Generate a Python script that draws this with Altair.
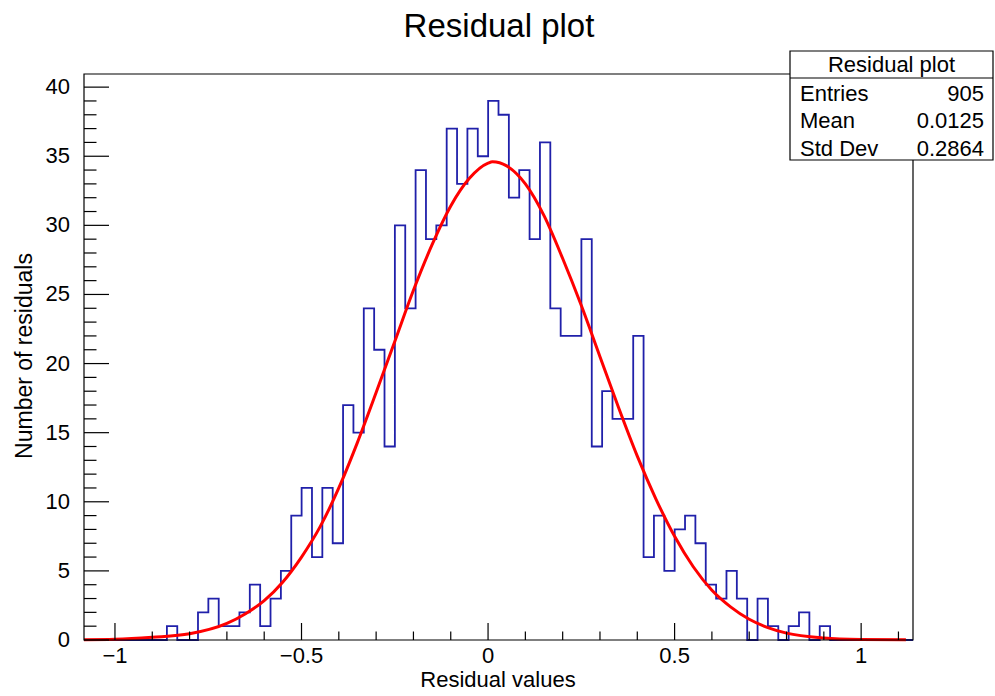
import altair as alt
import pandas as pd

# ---------------- data ----------------
nbins = 80
xmin, xmax = -1.083, 1.139
ymax = 40.95
counts = [0, 0, 0, 0, 0, 0, 0, 0,
          1, 0, 0, 2, 3, 1, 1, 2, 4, 1,
          3, 5, 9, 11, 6, 11, 7, 17, 15, 24,
          21, 14, 30, 24, 34, 29, 30, 37, 33, 37,
          35, 39, 38, 32, 34, 29, 36, 24, 22, 22,
          29, 14, 18, 16, 16, 22, 6, 9, 5, 8,
          9, 7, 4, 3, 5, 3, 0, 3, 1, 0,
          1, 2, 0, 1,
          0, 0, 0, 0, 0, 0, 0, 0]

# fitted curve, points
fit_x = [-1.083, -1.0, -0.9, -0.8, -0.7, -0.65, -0.6, -0.55, -0.5, -0.45, -0.4,
         -0.35, -0.3, -0.25, -0.2, -0.15, -0.1, -0.05, 0.0, 0.012, 0.05, 0.1,
         0.15, 0.2, 0.25, 0.3, 0.35, 0.4, 0.45, 0.5, 0.55, 0.6, 0.65, 0.7,
         0.75, 0.8, 0.9, 1.0, 1.12]
fit_y = [0.02, 0.05, 0.2, 0.45, 1.2, 1.9, 2.85, 4.2, 6.0, 8.2, 11.0,
         14.3, 17.9, 21.6, 25.3, 28.6, 31.4, 33.4, 34.5, 34.6, 34.3, 33.0,
         30.7, 27.6, 24.2, 20.5, 16.8, 13.3, 10.2, 7.5, 5.3, 3.6, 2.4, 1.5,
         0.9, 0.5, 0.15, 0.04, 0.01]

x_major = [-1.0, -0.5, 0.0, 0.5, 1.0]
x_major_labels = ["\u22121", "\u22120.5", "0", "0.5", "1"]
x_minor = [-0.9, -0.8, -0.7, -0.6, -0.4, -0.3, -0.2, -0.1,
           0.1, 0.2, 0.3, 0.4, 0.6, 0.7, 0.8, 0.9, 1.1]
y_major = [0, 5, 10, 15, 20, 25, 30, 35, 40]
y_major_labels = ["0", "5", "10", "15", "20", "25", "30", "35", "40"]
y_minor = [v for v in range(1, 41) if v % 5 != 0]

title_text = "Residual plot"
x_title = "Residual values"
y_title = "Number of residuals"
stat_names = ["Entries", "Mean", "Std Dev"]
stat_values = ["905", "0.0125", "0.2864"]

# ---------------- tables ----------------
width_bin = (xmax - xmin) / nbins
edges = [xmin + k * width_bin for k in range(nbins + 1)]
hist_df = pd.DataFrame({"x": edges, "y": counts + [counts[-1]]})
fit_df = pd.DataFrame({"x": fit_x, "y": fit_y})
xmaj_df = pd.DataFrame({"v": x_major, "label": x_major_labels})
xmin_df = pd.DataFrame({"v": x_minor})
ymaj_df = pd.DataFrame({"v": y_major, "label": y_major_labels})
ymin_df = pd.DataFrame({"v": y_minor})
one = pd.DataFrame({"d": [0]})

W, H = 829, 566
FONT = "Liberation Sans"
xs = alt.Scale(domain=[xmin, xmax], nice=False, zero=False)
ys = alt.Scale(domain=[0, ymax], nice=False, zero=True)

hist = alt.Chart(hist_df).mark_line(
    interpolate="step-after", color="#2020aa", strokeWidth=1.8
).encode(
    x=alt.X("x:Q", scale=xs, axis=None),
    y=alt.Y("y:Q", scale=ys, axis=None),
)

fit = alt.Chart(fit_df).mark_line(
    interpolate="monotone", color="#ff0000", strokeWidth=3
).encode(
    x=alt.X("x:Q", scale=xs, axis=None),
    y=alt.Y("y:Q", scale=ys, axis=None),
)

frame = alt.Chart(one).mark_rect(
    fill="transparent", stroke="black", strokeWidth=1.2
).encode(x=alt.value(0), x2=alt.value(W), y=alt.value(0), y2=alt.value(H))

xmaj_ticks = alt.Chart(xmaj_df).mark_rule(color="black", strokeWidth=1.2).encode(
    x=alt.X("v:Q", scale=xs, axis=None), y=alt.value(H), y2=alt.value(H - 17))
xmin_ticks = alt.Chart(xmin_df).mark_rule(color="black", strokeWidth=1.2).encode(
    x=alt.X("v:Q", scale=xs, axis=None), y=alt.value(H), y2=alt.value(H - 8.5))
ymaj_ticks = alt.Chart(ymaj_df).mark_rule(color="black", strokeWidth=1.2).encode(
    y=alt.Y("v:Q", scale=ys, axis=None), x=alt.value(0), x2=alt.value(25))
ymin_ticks = alt.Chart(ymin_df).mark_rule(color="black", strokeWidth=1.2).encode(
    y=alt.Y("v:Q", scale=ys, axis=None), x=alt.value(0), x2=alt.value(12.5))

xlabels = alt.Chart(xmaj_df).mark_text(
    font=FONT, fontSize=22, baseline="top", align="center", color="black"
).encode(x=alt.X("v:Q", scale=xs, axis=None), y=alt.value(H + 6), text="label:N")
ylabels = alt.Chart(ymaj_df).mark_text(
    font=FONT, fontSize=22, baseline="middle", align="right", color="black"
).encode(y=alt.Y("v:Q", scale=ys, axis=None), x=alt.value(-14), text="label:N")

title = alt.Chart(one).mark_text(
    font=FONT, fontSize=33, align="center", baseline="alphabetic", color="black"
).encode(x=alt.value(415), y=alt.value(-37), text=alt.value(title_text))
xtitle = alt.Chart(one).mark_text(
    font=FONT, fontSize=22, align="center", baseline="alphabetic", color="black"
).encode(x=alt.value(414), y=alt.value(613), text=alt.value(x_title))
ytitle = alt.Chart(one).mark_text(
    font=FONT, fontSize=23, align="center", baseline="alphabetic", angle=270,
    color="black"
).encode(x=alt.value(-52), y=alt.value(282), text=alt.value(y_title))

# stats box
bx0, bx1, by0, by1 = 706, 909, -23, 86
box = alt.Chart(one).mark_rect(fill="white", stroke="black", strokeWidth=1.2).encode(
    x=alt.value(bx0), x2=alt.value(bx1), y=alt.value(by0), y2=alt.value(by1))
sep = alt.Chart(one).mark_rule(color="black", strokeWidth=1.2).encode(
    x=alt.value(bx0), x2=alt.value(bx1), y=alt.value(4))
box_head = alt.Chart(one).mark_text(
    font=FONT, fontSize=22, align="center", baseline="alphabetic", color="black"
).encode(x=alt.value((bx0 + bx1) / 2), y=alt.value(-2), text=alt.value(title_text))

stat_df = pd.DataFrame({"name": stat_names, "value": stat_values, "row": [0, 1, 2]})
row_scale = alt.Scale(domain=[0, 2], range=[26.5, 81.5])
stat_names_t = alt.Chart(stat_df).mark_text(
    font=FONT, fontSize=22, align="left", baseline="alphabetic", color="black"
).encode(x=alt.value(716), y=alt.Y("row:Q", scale=row_scale, axis=None), text="name:N")
stat_vals_t = alt.Chart(stat_df).mark_text(
    font=FONT, fontSize=22, align="right", baseline="alphabetic", color="black"
).encode(x=alt.value(900), y=alt.Y("row:Q", scale=row_scale, axis=None), text="value:N")

stats = alt.layer(box, sep, box_head, stat_names_t, stat_vals_t).resolve_scale(y="independent")

main = alt.layer(
    hist, fit, frame, xmaj_ticks, xmin_ticks, ymaj_ticks, ymin_ticks,
    xlabels, ylabels, title, xtitle, ytitle,
)

chart = alt.layer(main, stats).resolve_scale(y="independent").properties(
    width=W, height=H,
    padding={"left": 84, "top": 74, "right": 82, "bottom": 56},
    autosize=alt.AutoSizeParams(type="none"),
    background="white",
).configure_view(stroke=None)

chart.save("out.html", embed_options={"renderer": "svg", "actions": False})
